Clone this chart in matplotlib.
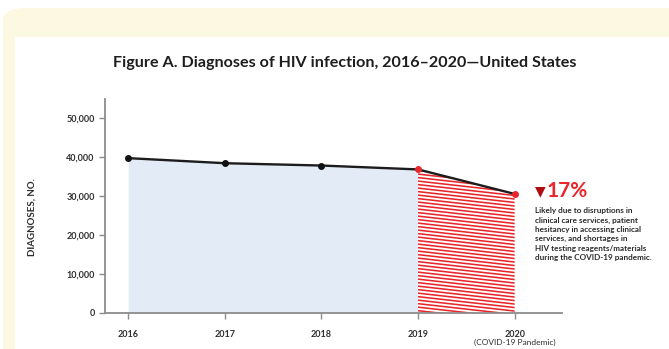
import numpy as np
import matplotlib
matplotlib.use("Agg")
from matplotlib import pyplot as plt
from matplotlib.patches import FancyBboxPatch, Rectangle, Polygon

# Data
years = [2016, 2017, 2018, 2019, 2020]
diagnoses = [39800, 38500, 37900, 36900, 30600]
year_labels = ["2016", "2017", "2018", "2019", "2020"]
y_ticks = [0, 10000, 20000, 30000, 40000, 50000]
drop_label = "17%"
note_lines = [
    "Likely due to disruptions in",
    "clinical care services, patient",
    "hesitancy in accessing clinical",
    "services, and shortages in",
    "HIV testing reagents/materials",
    "during the COVID-19 pandemic.",
]

W, H = 669, 349
FONT = ["Lato", "DejaVu Sans"]
plt.rcParams["font.family"] = FONT


def fx(px):
    return px / W


def fy(py):
    return 1 - py / H


fig = plt.figure(figsize=(W / 100, H / 100), dpi=100, facecolor="white")

# cream frame with rounded corner, white inner card
frame = FancyBboxPatch((fx(3), fy(380)), fx(700), fy(8) - fy(380),
                       boxstyle="round,pad=0,rounding_size=0.035",
                       transform=fig.transFigure, facecolor="#fdf8e1",
                       edgecolor="none", zorder=-2)
fig.patches.append(frame)
card = Rectangle((fx(15), 0), 1, fy(37), transform=fig.transFigure,
                 facecolor="white", edgecolor="none", zorder=-1)
fig.patches.append(card)

fig.text(fx(345), fy(63), "Figure A. Diagnoses of HIV infection, 2016\u20132020\u2014United States",
         ha="center", va="center", fontsize=11.6, fontweight="bold", color="#1e1e1e")

ax = fig.add_axes([fx(105), fy(313), fx(562) - fx(105), fy(99) - fy(313)])
ax.set_zorder(2)
ax.set_facecolor("none")
ax.set_xlim(2015.76, 2020.49)
ax.set_ylim(0, 55000)

# blue area 2016-2019
ax.fill_between(years[:4], diagnoses[:4], 0, color="#e3ecf6", linewidth=0, zorder=1)

# red hatched area 2019-2020 (shallow sloped lines clipped to the area)
clip = Polygon([(years[3], 0), (years[3], diagnoses[3]), (years[4], diagnoses[4]), (years[4], 0)],
               closed=True, facecolor="white", edgecolor="none", transform=ax.transData, zorder=1)
ax.add_patch(clip)
hx = np.array([years[3], years[4]])
for b in np.arange(-3000, diagnoses[3] + 4000, 900):
    ln, = ax.plot(hx, b - 2800 * (hx - years[3]), color="#e8262b", lw=1.15, zorder=2)
    ln.set_clip_path(clip)

# trend line
ax.plot(years, diagnoses, color="#1c1c1c", lw=1.7, zorder=3)
ax.plot(years[:3], diagnoses[:3], "o", color="#111111", ms=4, zorder=4)
ax.plot(years[3:], diagnoses[3:], "o", color="#e8262b", ms=4, zorder=4)

for s in ["top", "right"]:
    ax.spines[s].set_visible(False)
for s in ["left", "bottom"]:
    ax.spines[s].set_color("#8c8c8c")
    ax.spines[s].set_linewidth(1.3)

ax.set_yticks(y_ticks)
ax.set_yticklabels([f"{v:,}" for v in y_ticks])
ax.set_xticks(years)
ax.set_xticklabels(year_labels)
ax.tick_params(axis="both", colors="#8c8c8c", length=4, width=1, labelcolor="#2e2e2e",
               labelsize=6.5)
ax.tick_params(axis="x", pad=8)
for lab in ax.get_xticklabels() + ax.get_yticklabels():
    lab.set_fontweight("bold")

fig.text(fx(32), fy(217), "DIAGNOSES, NO.", rotation=90, ha="center", va="center",
         fontsize=7, fontweight="bold", color="#2e2e2e")
fig.text(fx(515), fy(342), "(COVID-19 Pandemic)", ha="center", va="center",
         fontsize=6, color="#2e2e2e")

# annotation
fig.text(fx(540), fy(191), "\u25bc", family="DejaVu Sans", ha="center", va="center",
         fontsize=10, color="#b00d12")
fig.text(fx(547), fy(191), drop_label, ha="left", va="center", fontsize=15,
         fontweight="bold", color="#e8262b")
fig.text(fx(535), fy(207), "\n".join(note_lines), ha="left", va="top", fontsize=5.9,
         fontweight="bold", color="#2a2a2a", linespacing=1.4)

fig.savefig("out.png", dpi=100, facecolor="white")
